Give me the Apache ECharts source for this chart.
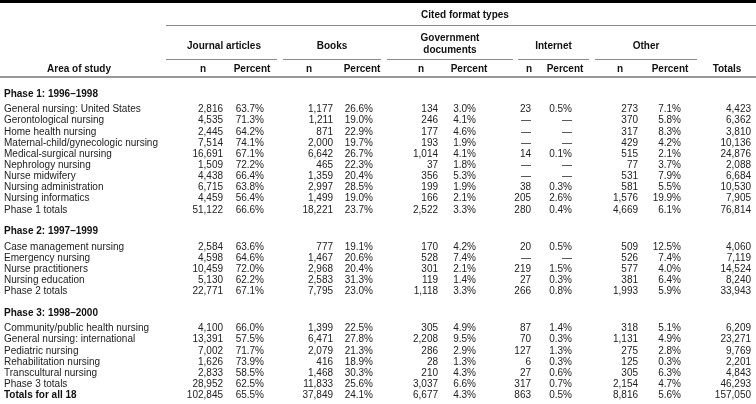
<!DOCTYPE html>
<html><head><meta charset="utf-8">
<script src="https://cdn.jsdelivr.net/npm/echarts/dist/echarts.min.js"></script>
<style>html,body{margin:0;padding:0;background:#fff}#c{width:756px;height:404px}</style>
</head><body><div id="c"></div>
<script>
// ---------------- DATA ----------------
const spanTitle = "Cited format types";
const stubTitle = "Area of study";
const groupTitles = ["Journal articles", "Books", "Government\ndocuments", "Internet", "Other"];
const subTitles = ["n", "Percent"];
const totalsTitle = "Totals";
const phaseTitles = ["Phase 1: 1996\u20131998", "Phase 2: 1997\u20131999", "Phase 3: 1998\u20132000"];
const phaseRowCounts = [10, 5, 6];
const rowLabels = [
  "General nursing: United States", "Gerontological nursing", "Home health nursing",
  "Maternal-child/gynecologic nursing", "Medical-surgical nursing", "Nephrology nursing",
  "Nurse midwifery", "Nursing administration", "Nursing informatics", "Phase 1 totals",
  "Case management nursing", "Emergency nursing", "Nurse practitioners", "Nursing education", "Phase 2 totals",
  "Community/public health nursing", "General nursing: international", "Pediatric nursing",
  "Rehabilitation nursing", "Transcultural nursing", "Phase 3 totals",
  "Totals for all 18"
];
const journalN   = [2816,4535,2445,7514,16691,1509,4438,6715,4459,51122, 2584,4598,10459,5130,22771, 4100,13391,7002,1626,2833,28952, 102845];
const journalPct = [63.7,71.3,64.2,74.1,67.1,72.2,66.4,63.8,56.4,66.6, 63.6,64.6,72.0,62.2,67.1, 66.0,57.5,71.7,73.9,58.5,62.5, 65.5];
const booksN     = [1177,1211,871,2000,6642,465,1359,2997,1499,18221, 777,1467,2968,2583,7795, 1399,6471,2079,416,1468,11833, 37849];
const booksPct   = [26.6,19.0,22.9,19.7,26.7,22.3,20.4,28.5,19.0,23.7, 19.1,20.6,20.4,31.3,23.0, 22.5,27.8,21.3,18.9,30.3,25.6, 24.1];
const govN       = [134,246,177,193,1014,37,356,199,166,2522, 170,528,301,119,1118, 305,2208,286,28,210,3037, 6677];
const govPct     = [3.0,4.1,4.6,1.9,4.1,1.8,5.3,1.9,2.1,3.3, 4.2,7.4,2.1,1.4,3.3, 4.9,9.5,2.9,1.3,4.3,6.6, 4.3];
const internetN  = [23,null,null,null,14,null,null,38,205,280, 20,null,219,27,266, 87,70,127,6,27,317, 863];
const internetPct= [0.5,null,null,null,0.1,null,null,0.3,2.6,0.4, 0.5,null,1.5,0.3,0.8, 1.4,0.3,1.3,0.3,0.6,0.7, 0.5];
const otherN     = [273,370,317,429,515,77,531,581,1576,4669, 509,526,577,381,1993, 318,1131,275,125,305,2154, 8816];
const otherPct   = [7.1,5.8,8.3,4.2,2.1,3.7,7.9,5.5,19.9,6.1, 12.5,7.4,4.0,6.4,5.9, 5.1,4.9,2.8,0.3,6.3,4.7, 5.6];
const rowTotals  = [4423,6362,3810,10136,24876,2088,6684,10530,7905,76814, 4060,7119,14524,8240,33943, 6209,23271,9769,2201,4843,46293, 157050];

// ---------------- LAYOUT / STYLE ----------------
const W = 756, H = 404;
const FONT = '"Liberation Sans", Arial, Helvetica, sans-serif';
const L = {
  labelX: 4,
  valueRight: [223, 264, 333, 373, 438, 476, 531, 572, 638, 681, 751],
  groupSpan: [[166, 277], [283, 381], [387, 513], [518, 589], [595, 697]],
  groupCenter: [224, 332, 450, 553.5, 646],
  nHead: [203, 309, 421, 529, 620],
  pctHead: [252, 362, 469, 565, 670],
  spanLine: [166, 756], spanTitleX: 465,
  spanTitleY: 15, spanLineY: 25.5,
  groupTitleY: 46, groupLineY: 59.5,
  subTitleY: 69, headRuleY: 77,
  stubX: 79, totalsHeadX: 727,
  firstPhaseY: 94, afterPhaseTitle: 15.5, rowStep: 11.15, beforePhaseTitle: 21.5,
  fs: 10, bodyColor: '#222', headColor: '#111', ruleColor: '#8a8a8a'
};

const fmtN = v => v == null ? '\u2014' : v.toLocaleString('en-US');
const fmtP = v => v == null ? '\u2014' : v.toFixed(1) + '%';
const valueCols = [
  [journalN, fmtN], [journalPct, fmtP], [booksN, fmtN], [booksPct, fmtP],
  [govN, fmtN], [govPct, fmtP], [internetN, fmtN], [internetPct, fmtP],
  [otherN, fmtN], [otherPct, fmtP], [rowTotals, fmtN]
];

// ---------------- BUILD CELLS ----------------
const cells = [];
function addText(x, y, t, align, bold) { cells.push({ x, y, t, align, bold }); }

// header
addText(L.spanTitleX, L.spanTitleY, spanTitle, 'center', true);
groupTitles.forEach((g, i) => {
  addText(L.groupCenter[i], L.groupTitleY - (g.indexOf('\n') >= 0 ? 2 : 0), g, 'center', true);
  addText(L.nHead[i], L.subTitleY, subTitles[0], 'center', true);
  addText(L.pctHead[i], L.subTitleY, subTitles[1], 'center', true);
});
addText(L.stubX, L.subTitleY, stubTitle, 'center', true);
addText(L.totalsHeadX, L.subTitleY, totalsTitle, 'center', true);

// body
let y = L.firstPhaseY;
let r = 0;
phaseTitles.forEach((pt, p) => {
  if (p > 0) y += L.beforePhaseTitle;
  addText(L.labelX, y, pt, 'left', true);
  y += L.afterPhaseTitle;
  for (let k = 0; k < phaseRowCounts[p]; k++) {
    if (k > 0) y += L.rowStep;
    addText(L.labelX, y, rowLabels[r], 'left', false);
    valueCols.forEach(([arr, f], ci) => addText(L.valueRight[ci], y, f(arr[r]), 'right', false));
    r++;
  }
});
y += L.rowStep;
addText(L.labelX, y, rowLabels[r], 'left', true);
valueCols.forEach(([arr, f], ci) => addText(L.valueRight[ci], y, f(arr[r]), 'right', false));

// rules
const rules = [
  { x1: 0, x2: W, y: 1.5, w: 3, c: '#000' },
  { x1: L.spanLine[0], x2: L.spanLine[1], y: L.spanLineY, w: 1, c: L.ruleColor },
  ...L.groupSpan.map(s => ({ x1: s[0], x2: s[1], y: L.groupLineY, w: 1, c: L.ruleColor })),
  { x1: 0, x2: W, y: L.headRuleY, w: 1.5, c: '#777' }
];

// ---------------- CHART ----------------
const chart = echarts.init(document.getElementById('c'), null, { renderer: 'canvas' });
chart.setOption({
  animation: false,
  backgroundColor: '#fff',
  grid: { left: 0, right: 0, top: 0, bottom: 0 },
  xAxis: { type: 'value', min: 0, max: W, show: false },
  yAxis: { type: 'value', min: 0, max: H, inverse: true, show: false },
  series: [
    {
      type: 'custom', silent: true,
      data: rules.map(o => [o.x1, o.y, o.x2]),
      encode: { x: [0, 2], y: 1 },
      renderItem: (params, api) => {
        const o = rules[params.dataIndex];
        const a = api.coord([o.x1, o.y]);
        const b = api.coord([o.x2, o.y]);
        return { type: 'line', shape: { x1: a[0], y1: a[1], x2: b[0], y2: b[1] },
                 style: { stroke: o.c, lineWidth: o.w } };
      }
    },
    {
      type: 'custom', silent: true,
      data: cells.map(o => [o.x, o.y]),
      encode: { x: 0, y: 1 },
      renderItem: (params, api) => {
        const o = cells[params.dataIndex];
        const p = api.coord([o.x, o.y]);
        return { type: 'text', x: p[0], y: p[1],
                 style: { text: o.t, fill: o.bold ? L.headColor : L.bodyColor,
                          font: (o.bold ? 'bold ' : '') + L.fs + 'px ' + FONT,
                          align: o.align, verticalAlign: 'middle',
                          textAlign: o.align, textVerticalAlign: 'middle', lineHeight: 12 } };
      }
    }
  ]
});
</script>
</body></html>
